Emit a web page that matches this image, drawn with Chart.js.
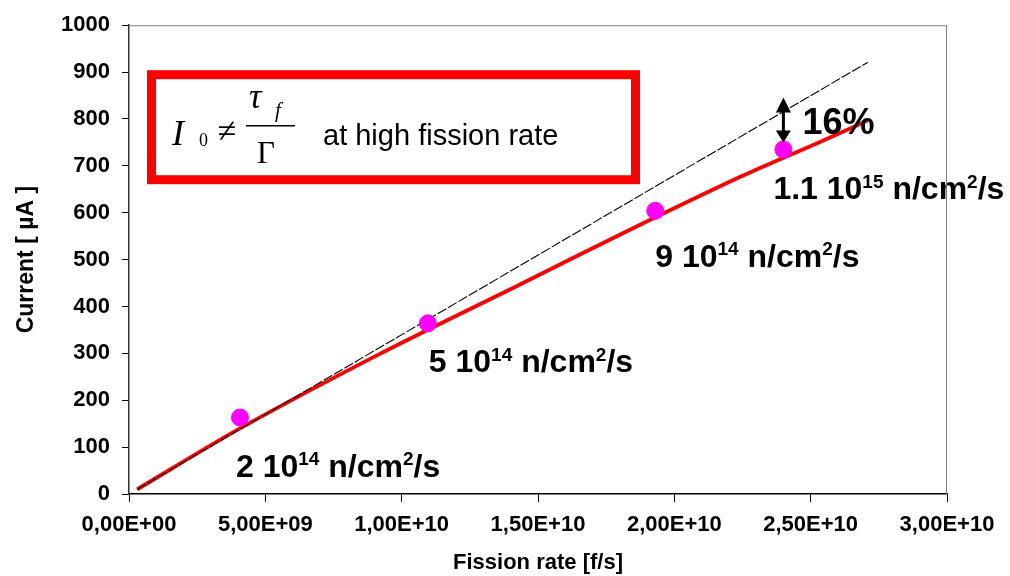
<!DOCTYPE html>
<html>
<head>
<meta charset="utf-8">
<title>Current vs fission rate</title>
<script src="https://cdn.jsdelivr.net/npm/chart.js@4.4.0/dist/chart.umd.min.js"></script>
<style>
  html, body { margin: 0; padding: 0; background: #fff; }
</style>
</head>
<body>
<canvas id="chart" width="1010" height="576"></canvas>
<script>
// measured chamber current (red curve)
var currentX = [0.3e9, 4.07e9, 9.2e9, 14.34e9, 18.0e9, 22.4e9, 25.3e9, 27.1e9];
var currentY = [10, 140, 299, 447, 553, 676, 750, 797];

// linear extrapolation (thin dashed line)
var linearX = [0.3e9, 27.1e9];
var linearY = [10, 921];

// irradiation points and their neutron flux
var fluxX = [4.07e9, 10.96e9, 19.3e9, 24.0e9];
var fluxY = [163, 364, 604, 735];
var fluxMantissa = ['2', '5', '9', '1.1'];
var fluxExponent = ['14', '14', '14', '15'];
var gapLabel = '16%';

var xTickLabels = ['0,00E+00', '5,00E+09', '1,00E+10', '1,50E+10', '2,00E+10', '2,50E+10', '3,00E+10'];

var SANS = '"Liberation Sans", Arial, sans-serif';
var SERIF = '"Liberation Serif", "Times New Roman", serif';

function pts(xs, ys) {
  return xs.map(function (x, i) { return { x: x, y: ys[i] }; });
}

// text with superscript pieces: parts = [[text, isSup], ...]
function drawRich(ctx, x, y, parts, size) {
  parts.forEach(function (p) {
    var sup = p[1];
    ctx.font = 'bold ' + (sup ? Math.round(size * 0.58) : size) + 'px ' + SANS;
    ctx.fillText(p[0], x, sup ? y - size * 0.37 : y);
    x += ctx.measureText(p[0]).width;
  });
}

// label offsets (px) from each flux point
var labelShift = [[-4, 59], [1, 49], [0, 56], [-10, 50]];

var notes = {
  id: 'notes',
  afterDatasetsDraw: function (chart) {
    var ctx = chart.ctx, xs = chart.scales.x, ys = chart.scales.y, ca = chart.chartArea;
    ctx.save();
    ctx.fillStyle = '#000';
    ctx.textAlign = 'left';
    ctx.textBaseline = 'alphabetic';

    // flux labels
    fluxX.forEach(function (fx, i) {
      var px = xs.getPixelForValue(fx) + labelShift[i][0];
      var py = ys.getPixelForValue(fluxY[i]) + labelShift[i][1];
      drawRich(ctx, px, py, [[fluxMantissa[i] + ' 10', false], [fluxExponent[i], true], [' n/cm', false], ['2', true], ['/s', false]], 32);
    });

    // double arrow over the last point + percentage
    var ax = xs.getPixelForValue(fluxX[3]);
    var ay = ys.getPixelForValue(fluxY[3]);
    var top = ay - 52, bot = ay - 7;
    ctx.strokeStyle = '#000';
    ctx.lineWidth = 3;
    ctx.beginPath();
    ctx.moveTo(ax, top + 10);
    ctx.lineTo(ax, bot - 10);
    ctx.stroke();
    ctx.beginPath();
    ctx.moveTo(ax, top); ctx.lineTo(ax - 7.5, top + 15); ctx.lineTo(ax + 7.5, top + 15); ctx.closePath();
    ctx.moveTo(ax, bot); ctx.lineTo(ax - 7.5, bot - 12); ctx.lineTo(ax + 7.5, bot - 12); ctx.closePath();
    ctx.fill();
    ctx.font = 'bold 36px ' + SANS;
    ctx.fillText(gapLabel, ax + 19, ay - 15);

    // formula box
    var ox = ca.left + 18, oy = ca.top + 45;
    ctx.strokeStyle = '#FF0000';
    ctx.lineWidth = 9;
    ctx.strokeRect(ox + 4.5, oy + 4.5, 484, 105);

    ctx.fillStyle = '#000';
    ctx.font = 'italic 36px ' + SERIF;
    ctx.fillText('I', ox + 25, oy + 75);
    ctx.font = '18px ' + SERIF;
    ctx.fillText('0', ox + 52, oy + 76);
    ctx.font = '34px ' + SERIF;
    ctx.textAlign = 'center';
    ctx.fillText('\u2260', ox + 80, oy + 72);
    ctx.textAlign = 'left';
    ctx.font = 'italic 35px ' + SERIF;
    ctx.fillText('\u03C4', ox + 102, oy + 38);
    ctx.font = 'italic 21px ' + SERIF;
    ctx.fillText('f', ox + 128, oy + 47);
    ctx.font = '31px ' + SERIF;
    ctx.fillText('\u0393', ox + 110, oy + 93);
    ctx.lineWidth = 1.5;
    ctx.strokeStyle = '#000';
    ctx.beginPath();
    ctx.moveTo(ox + 99, oy + 55.5);
    ctx.lineTo(ox + 148, oy + 55.5);
    ctx.stroke();
    ctx.font = '29px ' + SANS;
    ctx.fillText('at high fission rate', ox + 176, oy + 75);
    ctx.restore();
  },
  afterDraw: function (chart) {
    // light frame on top and right of the plot area
    var ctx = chart.ctx, ca = chart.chartArea;
    ctx.save();
    ctx.strokeStyle = '#808080';
    ctx.lineWidth = 1;
    ctx.beginPath();
    ctx.moveTo(ca.left, ca.top + 0.5);
    ctx.lineTo(ca.right - 0.5, ca.top + 0.5);
    ctx.lineTo(ca.right - 0.5, ca.bottom);
    ctx.stroke();
    ctx.restore();
  }
};

var tickFont = { family: SANS, weight: 'bold', size: 22 };

new Chart(document.getElementById('chart'), {
  type: 'scatter',
  data: {
    datasets: [
      {
        data: pts(fluxX, fluxY),
        backgroundColor: '#FF00FF',
        borderColor: '#FF00FF',
        pointRadius: 8.5,
        order: 0
      },
      {
        type: 'line',
        data: pts(linearX, linearY),
        borderColor: '#000',
        borderWidth: 1.1,
        borderDash: [10, 2],
        pointRadius: 0,
        fill: false,
        order: 1
      },
      {
        type: 'line',
        data: pts(currentX, currentY),
        borderColor: '#FF0000',
        borderWidth: 3.8,
        pointRadius: 0,
        tension: 0.3,
        fill: false,
        order: 2
      }
    ]
  },
  options: {
    responsive: false,
    animation: false,
    layout: { padding: { left: 0, right: 63, top: 22, bottom: 0 } },
    plugins: { legend: { display: false }, tooltip: { enabled: false } },
    scales: {
      x: {
        type: 'linear',
        min: 0,
        max: 3e10,
        ticks: {
          stepSize: 5e9,
          autoSkip: false,
          maxRotation: 0,
          color: '#000',
          font: tickFont,
          padding: 10,
          callback: function (v, i) { return xTickLabels[i]; }
        },
        grid: { drawOnChartArea: false, tickLength: 8, color: '#000' },
        border: { color: '#000', width: 1.5 },
        title: { display: true, text: 'Fission rate [f/s]', color: '#000', font: { family: SANS, weight: 'bold', size: 22 }, padding: { top: 0, bottom: 0 } },
        afterFit: function (s) { s.height = 82; }
      },
      y: {
        min: 0,
        max: 1000,
        ticks: {
          stepSize: 100,
          color: '#000',
          font: tickFont,
          padding: 12,
          callback: function (v) { return String(v); }
        },
        grid: { drawOnChartArea: false, tickLength: 7, color: '#000' },
        border: { color: '#333', width: 1.5 },
        title: { display: true, text: 'Current [ \u00B5A ]', color: '#000', font: { family: SANS, weight: 'bold', size: 23 }, padding: { top: 13, bottom: 0 } },
        afterFit: function (s) { s.width = 129; }
      }
    }
  },
  plugins: [notes]
});
</script>
</body>
</html>
